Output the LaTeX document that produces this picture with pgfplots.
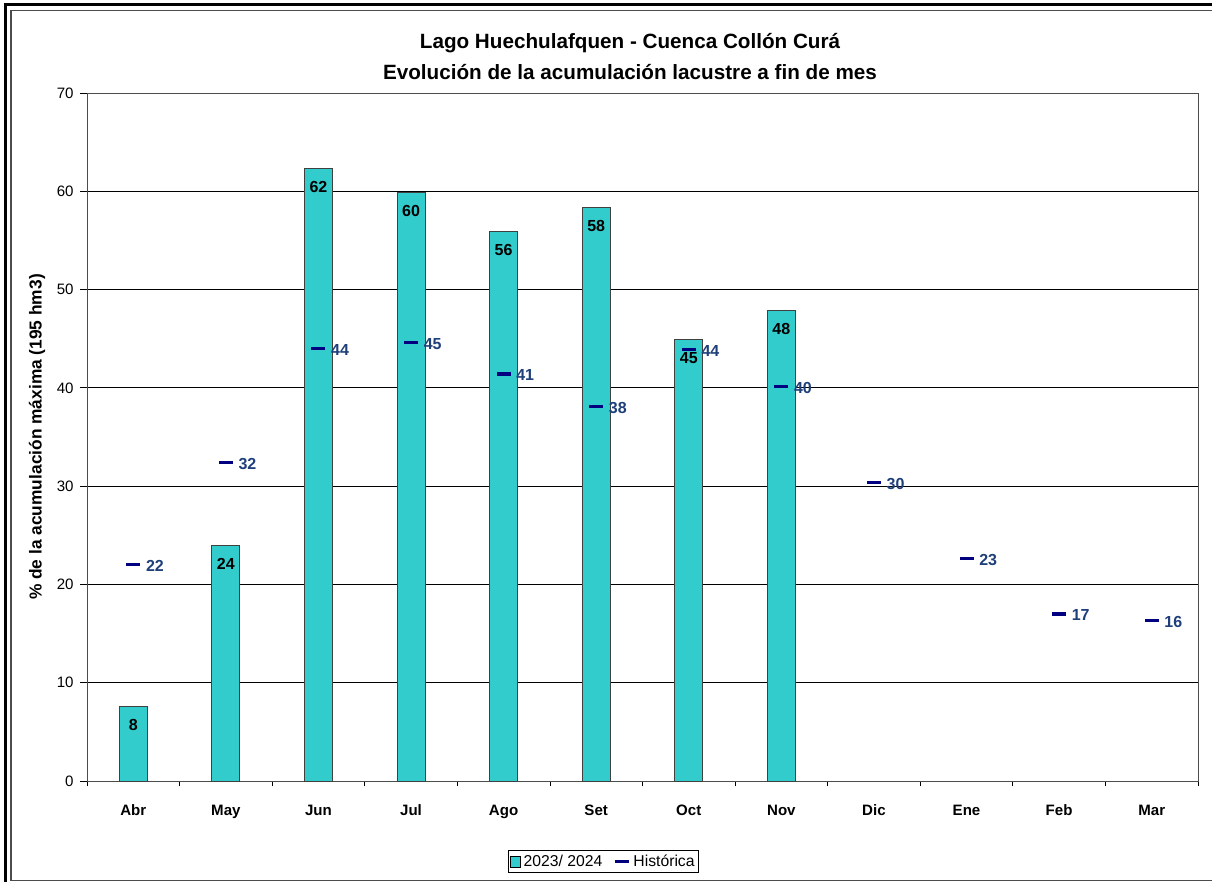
\documentclass[border=0pt]{standalone}
\usepackage{fontspec}
\setmainfont{Liberation Sans}
\usepackage{pgfplots}
\pgfplotsset{compat=1.18}
\definecolor{barcol}{HTML}{33CCCC}
\definecolor{histcol}{HTML}{000080}
\definecolor{histlab}{HTML}{1F3F7A}
\begin{document}
\begin{tikzpicture}
\useasboundingbox (0,0) rectangle (909pt,661.5pt);
\draw[line width=2.25pt] (4.1pt,0) -- (4.1pt,658.1pt) -- (909pt,658.1pt);
\draw[line width=1.1pt, gray!60!black] (909pt,653.6pt) -- (8.25pt,653.6pt) -- (8.25pt,1.1pt) -- (909pt,1.1pt);
\node[font=\bfseries\fontsize{15.5}{18}\selectfont] at (472.5pt,629pt) {Lago Huechulafquen - Cuenca Collón Curá};
\node[font=\bfseries\fontsize{15.5}{18}\selectfont] at (472.5pt,607.5pt) {Evolución de la acumulación lacustre a fin de mes};
\begin{axis}[
  at={(65.25pt,75.75pt)}, anchor=south west,
  scale only axis, width=833.25pt, height=516pt,
  xmin=-0.5, xmax=11.5, ymin=0, ymax=70,
  ytick={0,10,...,70},
  ymajorgrids, grid style={black, line width=0.6pt},
  axis line style={gray!60!black, line width=0.6pt},
  xtick={0,...,11},
  xticklabels={Abr,May,Jun,Jul,Ago,Set,Oct,Nov,Dic,Ene,Feb,Mar},
  major x tick style={draw=none},
  minor xtick={-0.5,0.5,...,11.5},
  minor tick length=4pt, major tick length=5pt,
  tick style={black, line width=0.6pt},
  tick align=outside, xtick pos=bottom, ytick pos=left,
  xticklabel style={font=\bfseries\fontsize{11.3}{13}\selectfont, yshift=-9pt, text height=1.6ex, text depth=0.4ex},
  yticklabel style={font=\fontsize{11.3}{13}\selectfont, xshift=-1.5pt},
  /pgf/number format/assume math mode=true,
  ylabel={\% de la acumulación máxima (195 hm3)},
  ylabel style={font=\bfseries\fontsize{13}{15}\selectfont, at={(axis description cs:-0.045,0.5)}, anchor=center},
  clip=false,
  legend style={at={(axis description cs:0.4649,-0.117)}, anchor=center, draw=black, line width=0.6pt,
    font=\fontsize{11.8}{14}\selectfont, legend columns=2, inner sep=1.2pt,
    /tikz/every even column/.append style={column sep=6pt}},
  legend cell align=left,
]
\addplot[ybar, bar width=21pt, fill=barcol, draw=black!75, line width=0.6pt,
  nodes near coords, point meta=y,
  nodes near coords style={font=\bfseries\fontsize{12}{14}\selectfont, black, anchor=north, yshift=-6pt,
    /pgf/number format/.cd, fixed, precision=0},
  legend image code/.code={\draw[fill=barcol, draw=black, line width=0.5pt] (0pt,-4pt) rectangle (8pt,4pt);}]
  coordinates {(0,7.6) (1,24.0) (2,62.3) (3,59.9) (4,55.9) (5,58.4) (6,44.9) (7,47.9)};
\addlegendentry{2023/ 2024}
\addplot[only marks, mark=-, mark size=5.25pt, mark options={histcol, line width=2.4pt},
  nodes near coords, point meta=y,
  nodes near coords style={font=\bfseries\fontsize{12}{14}\selectfont, text=histlab, anchor=west, xshift=5pt, yshift=-1pt,
    /pgf/number format/.cd, fixed, precision=0},
  legend image code/.code={\draw[histcol, line width=2.2pt] (0pt,0pt) -- (11pt,0pt);}]
  coordinates {(0,22.0) (1,32.4) (2,44.0) (3,44.6) (4,41.4) (5,38.1) (6,43.9) (7,40.1) (8,30.4) (9,22.6) (10,17.0) (11,16.3)};
\addlegendentry{Histórica}
\end{axis}
\end{tikzpicture}
\end{document}
